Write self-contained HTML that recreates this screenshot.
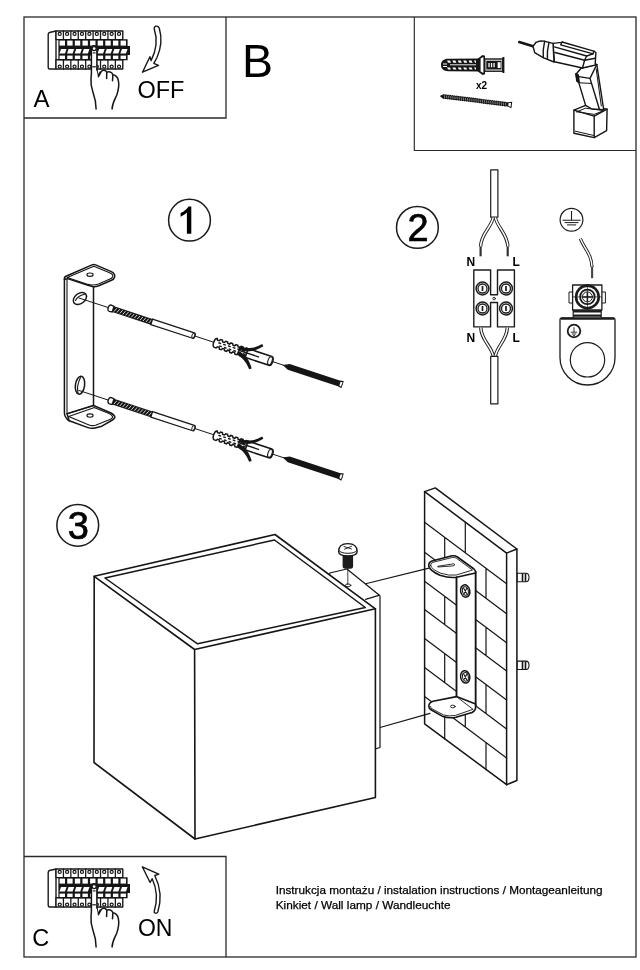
<!DOCTYPE html>
<html><head><meta charset="utf-8">
<style>
html,body{margin:0;padding:0;background:#fff;}
body{width:640px;height:970px;overflow:hidden;font-family:"Liberation Sans",sans-serif;}
svg{display:block;position:absolute;left:0;top:0;will-change:transform;}
text{font-family:"Liberation Sans",sans-serif;fill:#000;}
.l{stroke-linecap:round;stroke-linejoin:round;}
.l:not([fill]){fill:none;}
.l:not([stroke]){stroke:#1a1a1a;}
.l:not([stroke-width]){stroke-width:1;}

.w{fill:#fff;stroke-linejoin:round;}
.w:not([stroke]){stroke:#1a1a1a;}
.w:not([stroke-width]){stroke-width:1;}
.k{fill:#151515;stroke:none;}
</style></head><body>
<svg width="640" height="970" viewBox="0 0 640 970">
<rect width="640" height="970" fill="#fff"/>
<!-- FRAME -->
<g id="frame" fill="none" stroke="#2a2a2a" stroke-width="1.3">
<rect x="24" y="17" width="612" height="940"/>
<path d="M24 118H226V17"/>
<path d="M24 856.5H226V957"/>
<path d="M414.3 17V150.5H636" stroke-width="1.150"/>
</g>
<!-- TEXT -->
<g id="labels">
<text x="33.400" y="107.200" font-size="24">A</text>
<text x="137.400" y="97.600" font-size="23.500">OFF</text>
<text x="242" y="77.200" font-size="46.500">B</text>
<text x="32.200" y="946.400" font-size="23.500">C</text>
<text x="137.900" y="935.900" font-size="23">ON</text>
<g fill="#fff" stroke="#1a1a1a" stroke-width="1.5">
<circle cx="189.500" cy="220.200" r="20.900"/>
<circle cx="417.400" cy="227.400" r="20.900"/>
<circle cx="77.750" cy="525.300" r="20.900"/>
</g>
<path fill="#000" d="M191.300 233.800 H186.900 V212.600 C185.300 214.200 183 215.800 180.600 216.800 V213.100 C184.200 211.400 187.200 208.800 188.500 206.500 H191.300 Z"/>
<text x="407.400" y="240.800" font-size="38" stroke="#000" stroke-width="0.700">2</text>
<text x="67.700" y="538.500" font-size="38" stroke="#000" stroke-width="0.700">3</text>
<text x="476" y="88.900" font-size="10" font-weight="bold">x2</text>
<g font-size="11.750" stroke="#000" stroke-width="0.250">
<text x="275.700" y="893.900" textLength="326.800" lengthAdjust="spacingAndGlyphs">Instrukcja montażu / instalation instructions / Montageanleitung</text>
<text x="275.700" y="909.400" textLength="175" lengthAdjust="spacingAndGlyphs">Kinkiet / Wall lamp / Wandleuchte</text>
</g>
</g>
<g id="secA">
<g id="panel">
<g id="brk">
<path class="w" d="M56 31 L49.5 32.5 Q48.2 33 48.2 34.5 V67.5 Q48.2 69 49.8 69 H56 Z" stroke-width="1.4"/>
<rect x="56" y="31" width="66.78" height="8.6" class="w" stroke-width="1.4"/>
<path class="l" stroke-width="1.3" d="M63.42 31V39.6"/>
<path class="l" stroke-width="1.3" d="M70.84 31V39.6"/>
<path class="l" stroke-width="1.3" d="M78.26 31V39.6"/>
<path class="l" stroke-width="1.3" d="M85.68 31V39.6"/>
<path class="l" stroke-width="1.3" d="M93.10 31V39.6"/>
<path class="l" stroke-width="1.3" d="M100.52 31V39.6"/>
<path class="l" stroke-width="1.3" d="M107.94 31V39.6"/>
<path class="l" stroke-width="1.3" d="M115.36 31V39.6"/>
<circle cx="59.71" cy="33.9" r="1.55" fill="#fff" stroke="#151515" stroke-width="1.2"/>
<circle cx="67.13" cy="33.9" r="1.55" fill="#fff" stroke="#151515" stroke-width="1.2"/>
<circle cx="74.55" cy="33.9" r="1.55" fill="#fff" stroke="#151515" stroke-width="1.2"/>
<circle cx="81.97" cy="33.9" r="1.55" fill="#fff" stroke="#151515" stroke-width="1.2"/>
<circle cx="89.39" cy="33.9" r="1.55" fill="#fff" stroke="#151515" stroke-width="1.2"/>
<circle cx="96.81" cy="33.9" r="1.55" fill="#fff" stroke="#151515" stroke-width="1.2"/>
<circle cx="104.23" cy="33.9" r="1.55" fill="#fff" stroke="#151515" stroke-width="1.2"/>
<circle cx="111.65" cy="33.9" r="1.55" fill="#fff" stroke="#151515" stroke-width="1.2"/>
<circle cx="119.07" cy="33.9" r="1.55" fill="#fff" stroke="#151515" stroke-width="1.2"/>
<rect x="56" y="59.8" width="66.78" height="9.2" class="w" stroke-width="1.4"/>
<path class="l" stroke-width="1.3" d="M63.42 59.8V69"/>
<path class="l" stroke-width="1.3" d="M70.84 59.8V69"/>
<path class="l" stroke-width="1.3" d="M78.26 59.8V69"/>
<path class="l" stroke-width="1.3" d="M85.68 59.8V69"/>
<path class="l" stroke-width="1.3" d="M93.10 59.8V69"/>
<path class="l" stroke-width="1.3" d="M100.52 59.8V69"/>
<path class="l" stroke-width="1.3" d="M107.94 59.8V69"/>
<path class="l" stroke-width="1.3" d="M115.36 59.8V69"/>
<circle cx="59.71" cy="66.6" r="1.55" fill="#fff" stroke="#151515" stroke-width="1.2"/>
<circle cx="67.13" cy="66.6" r="1.55" fill="#fff" stroke="#151515" stroke-width="1.2"/>
<circle cx="74.55" cy="66.6" r="1.55" fill="#fff" stroke="#151515" stroke-width="1.2"/>
<circle cx="81.97" cy="66.6" r="1.55" fill="#fff" stroke="#151515" stroke-width="1.2"/>
<circle cx="89.39" cy="66.6" r="1.55" fill="#fff" stroke="#151515" stroke-width="1.2"/>
<circle cx="96.81" cy="66.6" r="1.55" fill="#fff" stroke="#151515" stroke-width="1.2"/>
<circle cx="104.23" cy="66.6" r="1.55" fill="#fff" stroke="#151515" stroke-width="1.2"/>
<circle cx="111.65" cy="66.6" r="1.55" fill="#fff" stroke="#151515" stroke-width="1.2"/>
<circle cx="119.07" cy="66.6" r="1.55" fill="#fff" stroke="#151515" stroke-width="1.2"/>
<path class="k" d="M58.4 39.2 H127.6 V46 H130 V55 H127.6 V60.2 H58.4 Z"/>
<rect x="59.60" y="40.6" width="5.4" height="5" fill="#fff"/>
<rect x="59.60" y="55.6" width="5.4" height="3.4" fill="#fff"/>
<path fill="#fff" d="M61.00 49.1 h5.6 l-1.6 4.4 h-5.6 Z"/>
<rect x="67.22" y="40.6" width="5.4" height="5" fill="#fff"/>
<rect x="67.22" y="55.6" width="5.4" height="3.4" fill="#fff"/>
<path fill="#fff" d="M68.62 49.1 h5.6 l-1.6 4.4 h-5.6 Z"/>
<rect x="74.84" y="40.6" width="5.4" height="5" fill="#fff"/>
<rect x="74.84" y="55.6" width="5.4" height="3.4" fill="#fff"/>
<path fill="#fff" d="M76.24 49.1 h5.6 l-1.6 4.4 h-5.6 Z"/>
<rect x="82.46" y="40.6" width="5.4" height="5" fill="#fff"/>
<rect x="82.46" y="55.6" width="5.4" height="3.4" fill="#fff"/>
<path fill="#fff" d="M83.86 49.1 h5.6 l-1.6 4.4 h-5.6 Z"/>
<rect x="90.08" y="40.6" width="5.4" height="5" fill="#fff"/>
<rect x="90.08" y="55.6" width="5.4" height="3.4" fill="#fff"/>
<rect x="97.70" y="40.6" width="5.4" height="5" fill="#fff"/>
<rect x="97.70" y="55.6" width="5.4" height="3.4" fill="#fff"/>
<path fill="#fff" d="M99.10 49.1 h5.6 l-1.6 4.4 h-5.6 Z"/>
<rect x="105.32" y="40.6" width="5.4" height="5" fill="#fff"/>
<rect x="105.32" y="55.6" width="5.4" height="3.4" fill="#fff"/>
<path fill="#fff" d="M106.72 49.1 h5.6 l-1.6 4.4 h-5.6 Z"/>
<rect x="112.94" y="40.6" width="5.4" height="5" fill="#fff"/>
<rect x="112.94" y="55.6" width="5.4" height="3.4" fill="#fff"/>
<path fill="#fff" d="M114.34 49.1 h5.6 l-1.6 4.4 h-5.6 Z"/>
<rect x="120.56" y="40.6" width="5.4" height="5" fill="#fff"/>
<rect x="120.56" y="55.6" width="5.4" height="3.4" fill="#fff"/>
<path fill="#fff" d="M121.96 49.1 h5.6 l-1.6 4.4 h-5.6 Z"/>
</g>
<g id="hand">
<path fill="#fff" stroke="none" d="M96.1 109 C96.2 101 94.6 97 93 92.5 C91.4 88 90.5 84 91 78 L91.4 73.7 V48.6 A2.75 2.75 0 0 1 96.9 48.6 V70 L98.4 76.6 L101.2 71.6 C102.5 69.6 105.8 69.8 106.8 72.3 C108.6 71.2 112 71.8 112.9 74.8 C115 74.8 118 77 118.4 80.8 C119.2 84.5 118.6 89.5 116.8 94.9 C115 99.5 112.2 103 112.1 109 Z"/>
<path class="l" stroke="#151515" stroke-width="1.5" d="M96.1 109 C96.2 101 94.6 97 93 92.5 C91.4 88 90.5 84 91 78 L91.4 73.7 V48.6 A2.75 2.75 0 0 1 96.9 48.6 V70"/>
<path class="k" d="M96.4 69 L98.2 77.4 L101 71.8 L99.8 71.2 L98.4 74 L97.4 69 Z"/>
<path class="l" stroke="#151515" stroke-width="1.5" d="M98.4 76.6 L101.2 71.6 C102.5 69.6 105.8 69.8 106.8 72.3 L106.6 78.4 M106.8 72.3 C108.6 71.2 112 71.8 112.9 74.8 L112.5 80.8 M112.9 74.8 C115 74.8 118 77 118.4 80.8 C119.2 84.5 118.6 89.5 116.8 94.9 C115 99.5 112.2 103 112.1 109"/>
<circle cx="94.15" cy="48.6" r="2" fill="#fff" stroke="#151515" stroke-width="1.2"/>
<path class="k" d="M92.8 52.4h2.8v1.1h-2.8z"/>
<path class="k" d="M92.3 66.2h3.6v1.2h-3.6z"/>
</g>
</g>
<path class="w" stroke="#151515" stroke-width="1.4" d="M155.4 26.3 Q158 25.6 159.3 28.2 C161.6 36 162 46 157 57.5 L153.8 63.4 L158.5 65.3 L142.5 72.2 L149.9 56.7 L151.1 60.6 C155.5 52 158.5 42 154.2 28.8 Q153.9 26.9 155.4 26.3 Z"/>
</g>
<g id="tools">
<g id="plug">
<path fill="#151515" d="M441 65 C441 61 444 58.800 448 58.800 L480 58.600 V71.400 L448 71.200 C444 71.200 441 69 441 65 Z"/>
<path fill="#fff" d="M447.0 60.600 h3 l1 2.200 h-3 Z"/>
<path fill="#fff" d="M447.0 67.400 h3 l1 2.200 h-3 Z"/>
<path fill="#fff" d="M452.4 60.600 h3 l1 2.200 h-3 Z"/>
<path fill="#fff" d="M452.4 67.400 h3 l1 2.200 h-3 Z"/>
<path fill="#fff" d="M457.8 60.600 h3 l1 2.200 h-3 Z"/>
<path fill="#fff" d="M457.8 67.400 h3 l1 2.200 h-3 Z"/>
<path fill="#fff" d="M463.2 60.600 h3 l1 2.200 h-3 Z"/>
<path fill="#fff" d="M463.2 67.400 h3 l1 2.200 h-3 Z"/>
<path fill="#fff" d="M468.6 60.600 h3 l1 2.200 h-3 Z"/>
<path fill="#fff" d="M468.6 67.400 h3 l1 2.200 h-3 Z"/>
<path fill="#fff" d="M474.0 60.600 h3 l1 2.200 h-3 Z"/>
<path fill="#fff" d="M474.0 67.400 h3 l1 2.200 h-3 Z"/>
<path fill="#fff" d="M443 63.400h4v1h-4z M443 66h4v1h-4z"/>
<path stroke="#fff" stroke-width="0.900" fill="none" d="M450 64.800 H478"/>
<path fill="#151515" d="M476 60 L482.500 55 L485 55.800 L485 74.200 L482.500 75 L476 70 Z"/>
<path fill="#fff" d="M480.600 58.600 L483.400 57 V73 L480.600 71.400 Z"/>
<rect x="484.800" y="59" width="18" height="12.200" fill="#fff" stroke="#151515" stroke-width="1.400"/>
<rect x="486.300" y="60.700" width="15.200" height="8.800" fill="#151515"/>
<path fill="#fff" d="M488.400 63h1.300v4.200h-1.300z M490.900 63h1.300v4.200h-1.300z M493.400 63h1.300v4.200h-1.300z"/>
<rect x="497.600" y="62.200" width="3" height="5.800" fill="#fff"/>
<path stroke="#151515" stroke-width="2" fill="none" d="M503.400 57 V73"/>
</g>
<g id="screw" transform="translate(439.70 95.90) rotate(7.115)">
<path fill="#151515" d="M0 0 L3 -1.800 L4.06 -2.500 L5.12 -1.900 L6.18 -2.500 L7.24 -1.900 L8.30 -2.500 L9.37 -1.900 L10.43 -2.500 L11.49 -1.900 L12.55 -2.500 L13.61 -1.900 L14.67 -2.500 L15.73 -1.900 L16.79 -2.500 L17.85 -1.900 L18.91 -2.500 L19.98 -1.900 L21.04 -2.500 L22.10 -1.900 L23.16 -2.500 L24.22 -1.900 L25.28 -2.500 L26.34 -1.900 L27.40 -2.500 L28.46 -1.900 L29.52 -2.500 L30.59 -1.900 L31.65 -2.500 L32.71 -1.900 L33.77 -2.500 L34.83 -1.900 L35.89 -2.500 L36.95 -1.900 L38.01 -2.500 L39.07 -1.900 L40.13 -2.500 L41.20 -1.900 L42.26 -2.500 L43.32 -1.900 L44.38 -2.500 L45.44 -1.900 L46.50 -2.500 L47.56 -1.900 L48.62 -2.500 L49.68 -1.900 L50.74 -2.500 L51.81 -1.900 L52.87 -2.500 L53.93 -1.900 L54.99 -2.500 L56.05 -1.900 L57.11 -2.500 L58.17 -1.900 L59.23 -2.500 L60.29 -1.900 L61.35 -2.500 L62.42 -1.900 L63.48 -2.500 L64.54 -1.900 L65.60 -2.500 L66.66 -1.900 L67.7 -2 L72.7 -3.300 V3.300 L67.7 2 L65.60 2.500 L64.54 1.900 L63.48 2.500 L62.42 1.900 L61.35 2.500 L60.29 1.900 L59.23 2.500 L58.17 1.900 L57.11 2.500 L56.05 1.900 L54.99 2.500 L53.93 1.900 L52.87 2.500 L51.81 1.900 L50.74 2.500 L49.68 1.900 L48.62 2.500 L47.56 1.900 L46.50 2.500 L45.44 1.900 L44.38 2.500 L43.32 1.900 L42.26 2.500 L41.20 1.900 L40.13 2.500 L39.07 1.900 L38.01 2.500 L36.95 1.900 L35.89 2.500 L34.83 1.900 L33.77 2.500 L32.71 1.900 L31.65 2.500 L30.59 1.900 L29.52 2.500 L28.46 1.900 L27.40 2.500 L26.34 1.900 L25.28 2.500 L24.22 1.900 L23.16 2.500 L22.10 1.900 L21.04 2.500 L19.98 1.900 L18.91 2.500 L17.85 1.900 L16.79 2.500 L15.73 1.900 L14.67 2.500 L13.61 1.900 L12.55 2.500 L11.49 1.900 L10.43 2.500 L9.37 1.900 L8.30 2.500 L7.24 1.900 L6.18 2.500 L5.12 1.900 L4.06 2.500 L3.00 1.900 Z"/>
<path stroke="#fff" stroke-width="0.450" d="M4.50 -1.200 l0.700 2.400"/>
<path stroke="#fff" stroke-width="0.450" d="M6.62 -1.200 l0.700 2.400"/>
<path stroke="#fff" stroke-width="0.450" d="M8.74 -1.200 l0.700 2.400"/>
<path stroke="#fff" stroke-width="0.450" d="M10.87 -1.200 l0.700 2.400"/>
<path stroke="#fff" stroke-width="0.450" d="M12.99 -1.200 l0.700 2.400"/>
<path stroke="#fff" stroke-width="0.450" d="M15.11 -1.200 l0.700 2.400"/>
<path stroke="#fff" stroke-width="0.450" d="M17.23 -1.200 l0.700 2.400"/>
<path stroke="#fff" stroke-width="0.450" d="M19.35 -1.200 l0.700 2.400"/>
<path stroke="#fff" stroke-width="0.450" d="M21.48 -1.200 l0.700 2.400"/>
<path stroke="#fff" stroke-width="0.450" d="M23.60 -1.200 l0.700 2.400"/>
<path stroke="#fff" stroke-width="0.450" d="M25.72 -1.200 l0.700 2.400"/>
<path stroke="#fff" stroke-width="0.450" d="M27.84 -1.200 l0.700 2.400"/>
<path stroke="#fff" stroke-width="0.450" d="M29.96 -1.200 l0.700 2.400"/>
<path stroke="#fff" stroke-width="0.450" d="M32.09 -1.200 l0.700 2.400"/>
<path stroke="#fff" stroke-width="0.450" d="M34.21 -1.200 l0.700 2.400"/>
<path stroke="#fff" stroke-width="0.450" d="M36.33 -1.200 l0.700 2.400"/>
<path stroke="#fff" stroke-width="0.450" d="M38.45 -1.200 l0.700 2.400"/>
<path stroke="#fff" stroke-width="0.450" d="M40.57 -1.200 l0.700 2.400"/>
<path stroke="#fff" stroke-width="0.450" d="M42.70 -1.200 l0.700 2.400"/>
<path stroke="#fff" stroke-width="0.450" d="M44.82 -1.200 l0.700 2.400"/>
<path stroke="#fff" stroke-width="0.450" d="M46.94 -1.200 l0.700 2.400"/>
<path stroke="#fff" stroke-width="0.450" d="M49.06 -1.200 l0.700 2.400"/>
<path stroke="#fff" stroke-width="0.450" d="M51.18 -1.200 l0.700 2.400"/>
<path stroke="#fff" stroke-width="0.450" d="M53.31 -1.200 l0.700 2.400"/>
<path stroke="#fff" stroke-width="0.450" d="M55.43 -1.200 l0.700 2.400"/>
<path stroke="#fff" stroke-width="0.450" d="M57.55 -1.200 l0.700 2.400"/>
<path stroke="#fff" stroke-width="0.450" d="M59.67 -1.200 l0.700 2.400"/>
<path stroke="#fff" stroke-width="0.450" d="M61.79 -1.200 l0.700 2.400"/>
<path stroke="#fff" stroke-width="0.450" d="M63.92 -1.200 l0.700 2.400"/>
<path stroke="#fff" stroke-width="0.450" d="M66.04 -1.200 l0.700 2.400"/>
<path fill="#fff" d="M69.3 -1.500 L71.7 -1.900 V1.900 L69.3 1.500 Z"/>
</g>
<g id="drill" stroke="#151515" stroke-width="1.400" fill="#fff" stroke-linejoin="round" stroke-linecap="round">
<path d="M519.200 42 L533 46.300" stroke-width="2.500" fill="none"/>
<path d="M573.9 110.1 L585.6 105.4 L607.1 109.2 L606.6 130.7 L594.2 137.6 L573.9 133.3 Z"/>
<path d="M573.9 110.1 L594.2 116.1 L607.1 109.2 " fill="none"/>
<path d="M594.2 116.1 L594.2 137.6 " fill="none"/>
<path d="M576.7 111.8 L585.6 108.2 L603.7 110.6 L594.2 114.4 L576.7 111.8 " fill="none" stroke-width="1"/>
<path d="M575.3 131.2 L593.9 135.5 " fill="none" stroke-width="1"/>
<path d="M581.300 68 L576.200 74 L577 81 L578.800 82.600 L585.600 105.400 L592 109 L603.700 109.600 L599.400 81.700 L596.800 64.500 Z"/>
<path fill="none" d="M590 78.400 L599.400 109.200 M578.800 76.600 L590 78.400 L596 66"/>
<path fill="none" stroke-width="1" d="M596.200 69 L601.300 106 M579.500 82.800 L590.800 83.400"/>
<path fill="#151515" d="M575.800 73.600 L578.200 74.800 L579.300 82.600 L576.800 81 Z"/>
<path d="M553 43.400 L561.500 42.400 L562.100 42 L593.800 51.100 L595.900 52.500 L595.200 63.800 L597 64.600 L582.500 68 L554.400 61.800 Z"/>
<path fill="none" d="M562.100 42 L560.700 44.800 L589.500 52.800 L593 53.900 L593.800 51.100"/>
<path fill="none" d="M554.400 46.900 L586.700 56 M555 52.500 L584.600 60.200"/>
<path fill="none" d="M586.700 56 L593 53.900 M586.700 56 L584.600 60.200 L582.500 68 M584.600 60.200 L595.300 58.200"/>
<path d="M533 46.300 L536.100 42.300 Q540 40.700 543.800 41.100 L553 43.400 L554 62 L543.100 57.700 L534.700 52.600 Z"/>
<path fill="none" d="M544.600 41.300 Q542.600 50 543.300 57.600 M549 42.400 Q546.800 51 547.400 59.200"/>
</g>
</g>
<g id="sec1">
<g id="bracket" class="l" stroke="#151515" stroke-width="1.500">
<path fill="#fff" stroke="none" d="M64.400 278 L93.500 286.700 V405.500 L114 414 L114 419 L95 428 L88 427.600 L69.200 420.800 L64.400 414 Z"/>
<path fill="#fff" d="M64.500 279.500 Q64 277.200 66 276.300 L92 264.900 Q93.800 264.200 95.600 264.900 L110.800 271.400 Q115.600 273.700 114.600 277 Q114 279.300 111.500 280.300 L98.800 285.700 Q95.500 286.900 93.300 286.700 L88 285.200 L67.500 278.600 Z"/>
<path fill="none" stroke-width="1.100" d="M67.200 277.600 L93.800 266.300 L109.600 272.800 Q113.400 274.500 112.700 276.700 Q112.200 278.100 110 279 L98.500 283.900 Q93 285.700 88 284.400 L67.200 277.600"/>
<ellipse cx="90" cy="274.700" rx="3.100" ry="1.700" fill="#fff" stroke-width="1.100"/>
<path fill="none" d="M64.400 279 V412.500 Q64.400 417.500 69.200 420.800"/>
<path fill="none" stroke-width="1.100" d="M67 279.500 V413.600"/>
<path fill="none" d="M93.500 286.700 V405.500"/>
<path fill="#fff" d="M69.200 420.800 L88 427.600 Q91.500 428.900 95 428 L101 426.600 L112.500 420 Q115.600 418 114.600 416.200 Q114 414.500 111 413 L93.500 405.500 L67 413.600 Z"/>
<path fill="none" stroke-width="1.100" d="M68.700 416.400 L93.800 407.700 M67 413.900 L93.500 405.400"/>
<path fill="none" stroke-width="1.100" d="M68.700 416.400 L89 424.900 Q92 426.100 95.500 425.300 L110.500 419.200 Q113 418 112.500 416.500 Q112 415 109.700 413.700 L94 407.600"/>
<ellipse cx="90" cy="415.600" rx="3.100" ry="1.700" fill="#fff" stroke-width="1.100"/>
<ellipse cx="79.900" cy="298.500" rx="7.400" ry="5.100" transform="rotate(-38 79.900 298.500)" fill="#fff" stroke-width="1.500"/>
<path fill="none" stroke-width="1.100" d="M75.500 300.500 Q77.500 296 84.500 294.300"/>
<ellipse cx="80" cy="385.200" rx="4.600" ry="9" transform="rotate(8 80 385.200)" fill="#fff" stroke-width="1.500"/>
<path fill="none" stroke-width="1.100" d="M78 393 Q76.300 386 80.500 377.500"/>
</g>
<g id="fset" transform="translate(78.500 297.800) rotate(18.200)">
<path stroke="#151515" stroke-width="0.900" fill="none" d="M0 0 H278"/>
<path fill="#fff" stroke="#151515" stroke-width="1.300" d="M33.500 -3.300 Q31.300 -3.300 31.300 0 Q31.300 3.300 33.500 3.300 L36.400 2.900 V-2.900 Z"/>
<rect x="36.400" y="-3" width="40.600" height="6" fill="#151515"/>
<path stroke="#fff" stroke-width="0.750" d="M38.00 2 l1.700 -4"/>
<path stroke="#fff" stroke-width="0.750" d="M41.05 2 l1.700 -4"/>
<path stroke="#fff" stroke-width="0.750" d="M44.10 2 l1.700 -4"/>
<path stroke="#fff" stroke-width="0.750" d="M47.15 2 l1.700 -4"/>
<path stroke="#fff" stroke-width="0.750" d="M50.20 2 l1.700 -4"/>
<path stroke="#fff" stroke-width="0.750" d="M53.25 2 l1.700 -4"/>
<path stroke="#fff" stroke-width="0.750" d="M56.30 2 l1.700 -4"/>
<path stroke="#fff" stroke-width="0.750" d="M59.35 2 l1.700 -4"/>
<path stroke="#fff" stroke-width="0.750" d="M62.40 2 l1.700 -4"/>
<path stroke="#fff" stroke-width="0.750" d="M65.45 2 l1.700 -4"/>
<path stroke="#fff" stroke-width="0.750" d="M68.50 2 l1.700 -4"/>
<path stroke="#fff" stroke-width="0.750" d="M71.55 2 l1.700 -4"/>
<path stroke="#fff" stroke-width="0.750" d="M74.60 2 l1.700 -4"/>
<path fill="#fff" stroke="#151515" stroke-width="1.300" d="M77 -2.800 H121 Q122.600 -2.800 122.600 0 Q122.600 2.800 121 2.800 H77 Z"/>
<ellipse cx="120.800" cy="0" rx="1.300" ry="2.500" fill="#fff" stroke="#151515" stroke-width="0.900"/>
<path fill="#fff" stroke="#151515" stroke-width="1.500" d="M175 -4.600 H202 Q204.400 -4.600 204.400 0 Q204.400 4.600 202 4.600 H175 Z"/>
<ellipse cx="201.600" cy="0" rx="2" ry="4.200" fill="#fff" stroke="#151515" stroke-width="1.100"/>
<path fill="#fff" stroke="#151515" stroke-width="1.500" d="M177.0 -4.700 L175.10 -4.700 L174.29 -3.200 L172.40 -3.200 L171.58 -4.700 L169.69 -4.700 L168.88 -3.200 L166.98 -3.200 L166.17 -4.700 L164.27 -4.700 L163.46 -3.200 L161.56 -3.200 L160.75 -4.700 L158.85 -4.700 L158.04 -3.200 L156.15 -3.200 L155.33 -4.700 L153.44 -4.700 L152.62 -3.200 L150.73 -3.200 L149.92 -4.700 L148.02 -4.700 L147.21 -3.200 L145.31 -3.200 L144.50 -4.700 Q142.300 -4.300 142.300 0 Q142.300 4.300 144.5 4.700 L146.40 4.700 L147.21 3.200 L149.10 3.200 L149.92 4.700 L151.81 4.700 L152.62 3.200 L154.52 3.200 L155.33 4.700 L157.23 4.700 L158.04 3.200 L159.94 3.200 L160.75 4.700 L162.65 4.700 L163.46 3.200 L165.35 3.200 L166.17 4.700 L168.06 4.700 L168.88 3.200 L170.77 3.200 L171.58 4.700 L173.48 4.700 L174.29 3.200 L176.19 3.200 L177.00 4.700 Z"/>
<path stroke="#151515" stroke-width="1.400" fill="none" d="M147.0 -1 h2.800 M148.6 1.700 h2.800"/>
<path stroke="#151515" stroke-width="1.400" fill="none" d="M152.0 -1 h2.800 M153.6 1.700 h2.800"/>
<path stroke="#151515" stroke-width="1.400" fill="none" d="M157.0 -1 h2.800 M158.6 1.700 h2.800"/>
<path stroke="#151515" stroke-width="1.400" fill="none" d="M162.0 -1 h2.800 M163.6 1.700 h2.800"/>
<path stroke="#151515" stroke-width="1.400" fill="none" d="M167.0 -1 h2.800 M168.6 1.700 h2.800"/>
<path stroke="#151515" stroke-width="1.400" fill="none" d="M172.0 -1 h2.800 M173.6 1.700 h2.800"/>
<path fill="#151515" d="M168 -4.600 C176 -3.800 183 -6.500 189 -13.400 L190.800 -11.600 C184.500 -4 177 0 168 -0.800 Z"/>
<path fill="#151515" d="M168 0.600 C176 1.400 182 6 186.600 13 L184.400 14.600 C179.500 8.500 174 5.400 168 4.600 Z"/>
<path stroke="#151515" stroke-width="1.300" d="M168 -0.100 H190" fill="none"/>
<path fill="#151515" d="M215 0 L221.300 -3 H274 L278 -3.900 V3.900 L274 3 H221.300 Z"/>
<path fill="#fff" d="M275.200 -1.800 L277.100 -2.400 V2.400 L275.200 1.800 Z"/>
</g>
<use href="#fset" transform="translate(0 92.500)"/>
</g>
<g id="sec2" class="l" stroke="#1c1c1c" stroke-width="1.200" fill="none">
<rect x="490.700" y="169.800" width="7.200" height="47.400" fill="#fff"/>
<path d="M493.300 217.500 C491 228 480.800 234 480.600 246.500" stroke-width="3.4" stroke-linecap="butt"/><path d="M493.300 217.500 C491 228 480.800 234 480.600 246.500" stroke="#fff" stroke-width="1.5" stroke-linecap="butt"/>
<path d="M495.300 217.500 C497.600 228 507.600 234 507.800 246.500" stroke-width="3.4" stroke-linecap="butt"/><path d="M495.300 217.500 C497.600 228 507.600 234 507.800 246.500" stroke="#fff" stroke-width="1.5" stroke-linecap="butt"/>
<path d="M480.600 246.500 V256.300" stroke-width="2.200" stroke="#333" stroke-linecap="butt"/>
<path d="M507.700 246.500 V256.300" stroke-width="2.200" stroke="#333" stroke-linecap="butt"/>
<path fill="#fff" stroke-width="1.400" d="M473.800 270 H490.600 V294.800 H497.500 V270 H514.400 V326.900 H497.500 V302.500 H490.600 V326.900 H473.800 Z"/>
<circle cx="494.100" cy="298.600" r="1.300" stroke-width="0.900"/>
<circle cx="482.5" cy="288.5" r="6.400" stroke-width="1.500" fill="#fff"/>
<circle cx="482.5" cy="288.5" r="4.500" stroke-width="1.300"/>
<path d="M482.5 286.0 v5" stroke-width="1.700" stroke-linecap="butt"/>
<circle cx="506.0" cy="288.5" r="6.400" stroke-width="1.500" fill="#fff"/>
<circle cx="506.0" cy="288.5" r="4.500" stroke-width="1.300"/>
<path d="M506.0 286.0 v5" stroke-width="1.700" stroke-linecap="butt"/>
<circle cx="482.5" cy="308.5" r="6.400" stroke-width="1.500" fill="#fff"/>
<circle cx="482.5" cy="308.5" r="4.500" stroke-width="1.300"/>
<path d="M482.5 306.0 v5" stroke-width="1.700" stroke-linecap="butt"/>
<circle cx="506.0" cy="308.5" r="6.400" stroke-width="1.500" fill="#fff"/>
<circle cx="506.0" cy="308.5" r="4.500" stroke-width="1.300"/>
<path d="M506.0 306.0 v5" stroke-width="1.700" stroke-linecap="butt"/>
<path d="M480.800 327.600 C481 340 491.500 346 493.500 356.500" stroke-width="3.4" stroke-linecap="butt"/><path d="M480.800 327.600 C481 340 491.500 346 493.500 356.500" stroke="#fff" stroke-width="1.5" stroke-linecap="butt"/>
<path d="M507.300 327.600 C507 340 497 346 495.200 356.500" stroke-width="3.4" stroke-linecap="butt"/><path d="M507.300 327.600 C507 340 497 346 495.200 356.500" stroke="#fff" stroke-width="1.5" stroke-linecap="butt"/>
<path fill="#fff" d="M490.700 403.800 V356.300 H497.900 V403.800 Z"/>
<circle cx="571.500" cy="219.800" r="11.400" stroke-width="1.200" fill="#fff"/>
<path d="M571.500 211 V220.200 M562.500 220.300 H580.600" stroke-width="1.100" stroke-linecap="butt"/>
<path d="M564.600 222.600 H578.500 M567 224.900 H576.200" stroke-width="1" stroke-linecap="butt"/>
<path d="M580.300 238.600 C585 250 591.500 254 592 267" stroke-width="3.2" stroke-linecap="butt"/><path d="M580.300 238.600 C585 250 591.500 254 592 267" stroke="#fff" stroke-width="1.4" stroke-linecap="butt"/>
<path d="M592.100 266.500 V278.200" stroke-width="2.100" stroke="#444" stroke-linecap="butt"/>
<path fill="#fff" stroke-width="1.300" d="M562 317.800 H613 Q615 317.800 615 319.800 V357.500 A27.500 27.500 0 0 1 560 357.500 V319.800 Q560 317.800 562 317.800 Z"/>
<path d="M561 318.600 H614" stroke-width="2.200" stroke-linecap="butt"/>
<circle cx="587.500" cy="359.800" r="17.200" stroke-width="1.200"/>
<circle cx="574" cy="331" r="6.300" stroke-width="1.800"/>
<path d="M574 327.200 V332 M570.800 332.200 H577.200 M571.800 334 H576.200 M573 335.600 H575" stroke-width="0.900" stroke-linecap="butt"/>
<rect x="573.200" y="310" width="28" height="7.800" fill="#fff" stroke-width="1.200"/>
<path d="M573.200 311.400 H601.200 M573.200 315.600 H601.200" stroke-width="2.300" stroke-linecap="butt"/>
<rect x="569.400" y="292" width="3.400" height="11" fill="#fff" stroke-width="1"/>
<rect x="601.800" y="292" width="3.600" height="11" fill="#fff" stroke-width="1"/>
<rect x="572.600" y="285" width="29.300" height="25" fill="#fff" stroke-width="1.300"/>
<circle cx="587.400" cy="296.900" r="11.300" stroke-width="2.600" fill="#fff"/>
<circle cx="587.400" cy="296.900" r="7.300" stroke-width="1.800" fill="#fff"/>
<circle cx="587.400" cy="296.900" r="5" stroke-width="1" fill="#fff"/>
<path d="M587.400 284 V310 M572.600 296.900 H602" stroke-width="0.700" stroke-linecap="butt"/>
<path d="M587.400 292.600 V301.200 M583.100 296.900 H591.700" stroke-width="1.500" stroke-linecap="butt"/>
</g>
<g font-size="12" font-weight="bold"><text x="466.600" y="266.300">N</text><text x="512.400" y="266.300">L</text><text x="466.600" y="341.900">N</text><text x="512.400" y="341.900">L</text></g>
<g id="sec3" class="l" stroke="#151515" stroke-width="1.300" fill="none">
<path fill="#fff" stroke-width="1.100" d="M517 573.3 H526 Q529 573.3 529 577.5 Q529 581.7 526 581.7 H517 Z"/>
<path stroke-width="1.600" stroke-linecap="butt" d="M522.500 573.3 V581.7 M525.500 573.5 V581.5"/>
<path fill="#fff" stroke-width="1.100" d="M517 661.1 H526 Q529 661.1 529 665.3 Q529 669.5 526 669.5 H517 Z"/>
<path stroke-width="1.600" stroke-linecap="butt" d="M522.500 661.1 V669.5 M525.500 661.3 V669.3"/>
<path fill="#fff" stroke-width="1.500" d="M424.600 491.600 L435.300 487.900 L516.900 549 V780.500 L506.600 784.700 L424.600 723.800 Z"/>
<path stroke-width="1.500" d="M424.600 491.600 L506.600 553.100 L516.900 549 M506.600 553.100 V784.700"/>
<path stroke-width="1.200" d="M424.600 522.2 L506.600 583.7 M424.600 552.2 L506.600 613.7 M424.600 581.2 L506.600 642.8 M424.600 609.4 L506.600 670.9 M424.600 638.4 L506.600 699.9 M424.600 667.5 L506.600 729.0 M424.600 696.6 L506.600 758.1 M465.3 522.1 V552.7 M444.7 537.3 V567.3 M486.0 568.2 V598.2 M465.3 582.7 V611.8 M444.7 596.3 V624.5 M486.0 627.3 V655.4 M465.3 639.9 V668.9 M444.7 653.5 V682.6 M486.0 684.4 V713.5 M465.3 698.0 V727.1 M444.7 711.7 V738.9 M486.0 742.6 V769.8 "/>
<path stroke-width="1.100" d="M365.600 583.800 L429 568.100 M380 727.500 L430 713.400"/>
<path fill="#fff" stroke-width="1.500" d="M456.500 576.600 L475.600 571.500 V706 Q475.600 709.500 472 712.500 L456.500 698 Z"/>
<path fill="#fff" stroke-width="1.600" d="M428.800 566 Q428.300 562.500 432 561 L452 555.800 Q455 555.300 457.500 557 L474 569 Q475.800 570.500 475.600 573 L456.500 577.300 Q449 578.200 440 575.200 Q430 571 428.800 566 Z"/>
<path stroke-width="0.900" d="M430.600 565.500 Q430.400 563.200 433 562.300 L452.500 557.400 Q454.800 557.100 456.500 558.300 L472.500 570 L456.300 575 Q449 576 441 573.300 Q431.500 569.500 430.600 565.500 Z"/>
<path stroke-width="0.900" d="M438.200 567 L453 565.900 Q455.300 565.300 454.400 564.100 Q453.500 563.300 451.500 564.200 L438.200 566.200 Z"/>
<path fill="#fff" stroke-width="1.600" d="M456.500 696.600 L433 701.200 Q429 702.500 428.800 706 Q428.800 708.500 431 709.800 L443 716.600 Q449 718.600 456 717.200 L472 712.500 Q475.800 710.800 475.600 706.500 L475.600 704 Z"/>
<path stroke-width="0.900" d="M456.500 696.600 L472.800 709.200 M430.500 706.500 Q430.500 708 432 708.800 L443.600 715 Q449 716.600 455.500 715.400 L472.800 709.400"/>
<ellipse cx="452.800" cy="706.500" rx="2.400" ry="1.300" stroke-width="0.900"/>
<path stroke-width="1.500" d="M456.500 577 V696.600 M475.600 572 V706"/>
<ellipse cx="465.200" cy="591.0" rx="4.600" ry="6.200" fill="#fff" stroke-width="1.500" transform="rotate(-12 465.200 591.0)"/>
<ellipse cx="465.400" cy="591.0" rx="2.900" ry="4.300" stroke-width="1" transform="rotate(-12 465.400 591.0)"/>
<path stroke-width="1.100" d="M463.800 588.4 L466.800 593.8 M466.600 588.6 L464.200 593.4"/>
<ellipse cx="465.200" cy="676.9" rx="4.600" ry="6.200" fill="#fff" stroke-width="1.500" transform="rotate(-12 465.200 676.9)"/>
<ellipse cx="465.400" cy="676.9" rx="2.900" ry="4.300" stroke-width="1" transform="rotate(-12 465.400 676.9)"/>
<path stroke-width="1.100" d="M463.800 674.3 L466.800 679.7 M466.600 674.5 L464.200 679.3"/>
<path fill="#fff" stroke-width="1.200" d="M329.400 576 L329.800 573 L346.900 569 L379.400 595.200 L380 596 V747.500 L375 749 V610.500 Z"/>
<path stroke-width="1.100" d="M365.600 599.400 L378.800 595.400"/>
<ellipse cx="348.100" cy="585.300" rx="2.800" ry="1.400" stroke-width="0.900"/>
<path fill="#fff" stroke-width="1.600" d="M94.200 576.300 L275 534.500 L375.400 608.800 V797.500 L195 839 L94 762.500 Z"/>
<path stroke-width="1.600" d="M94.200 576.300 L194.600 649.500 L375.400 608.800 M194.600 649.500 L195 839"/>
<path stroke-width="1.500" d="M105 578 L274.500 540 L365.300 607.500 L197.500 643.800 Z"/>
<path stroke-width="0.800" d="M347.800 568 V584.600"/>
<path fill="#1c1c1c" stroke="none" d="M342.600 555 H353.100 V566 Q353.100 568.800 350.500 568.800 H345.200 Q342.600 568.800 342.600 566 Z"/>
<path fill="#fff" stroke-width="1.300" d="M338.600 551.500 Q338.600 543.600 347.800 543.600 Q357.200 543.600 357.200 551.500 Q357.200 555.800 347.800 555.800 Q338.600 555.800 338.600 551.500 Z"/>
<path stroke-width="1" d="M338.800 550.500 Q341 553.300 347.800 553.300 Q355 553.300 357 550.500"/>
<path stroke-width="0.900" d="M344 546.500 L351.500 549 M351.500 546.300 L344.500 549.200"/>
</g>
<g id="secC">
<use href="#panel" transform="translate(0 838)"/>
<path class="w" stroke="#151515" stroke-width="1.4" d="M142.3 866.8 L158.75 874.1 L154.8 875.5 C159 884 162.5 897 157.8 912 Q156.6 914 154.9 913 Q153.8 912.3 154.25 911.2 C158 899 157 889 152.2 878.75 L150.1 882.5 Z"/>
</g>
</svg>
</body></html>
